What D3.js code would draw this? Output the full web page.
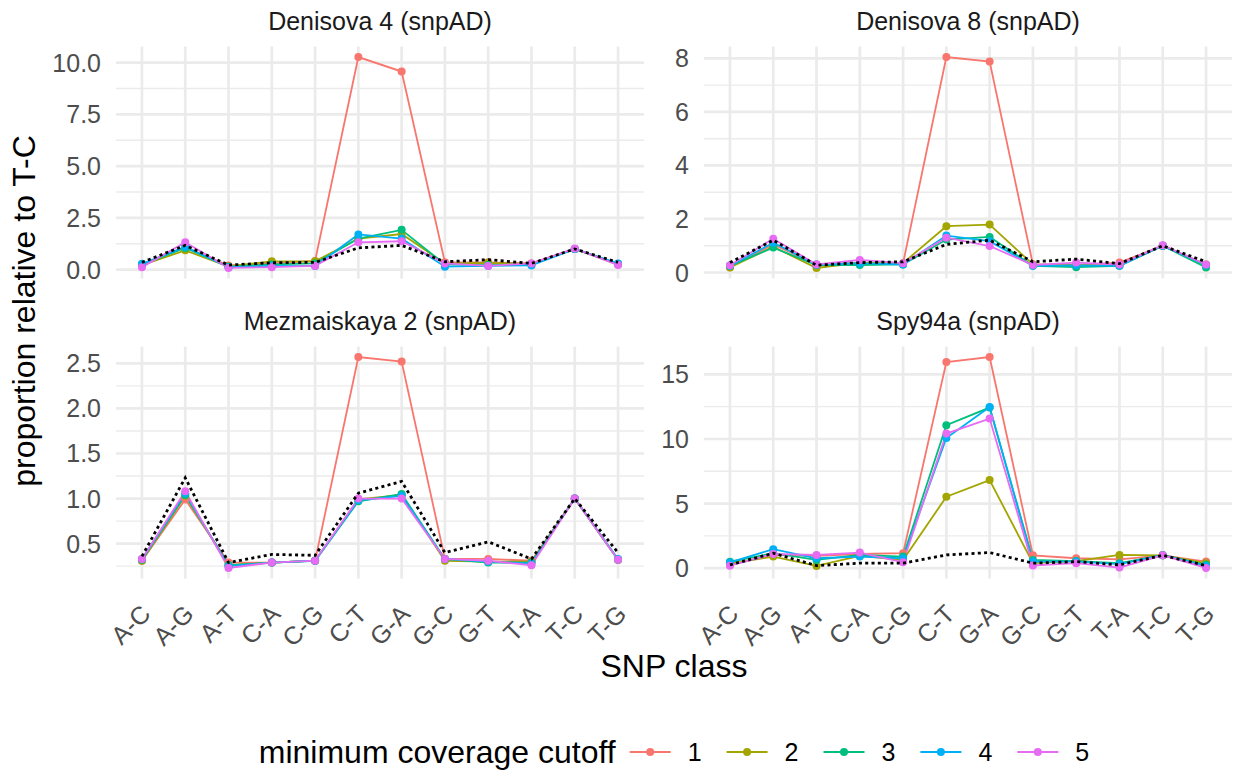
<!DOCTYPE html>
<html>
<head>
<meta charset="utf-8">
<script src="https://cdn.jsdelivr.net/npm/d3@7"></script>
<style>
  body { margin: 0; background: #fff; }
  svg { display: block; font-family: "Liberation Sans", Arial, sans-serif; }
</style>
</head>
<body>
<div id="chart"></div>
<script>
// SNP classes on the x axis
const categories = ["A-C", "A-G", "A-T", "C-A", "C-G", "C-T", "G-A", "G-C", "G-T", "T-A", "T-C", "T-G"];
const cutoffs = ["1", "2", "3", "4", "5"];
const cutoffColors = ["#F8766D", "#A3A500", "#00BF7D", "#00B0F6", "#E76BF3"];

// one row per cutoff (1..5), plus the dotted reference line
const den4Values = [
    [0.25, 1.08, 0.20, 0.30, 0.42, 10.27, 9.57, 0.35, 0.35, 0.30, 1.00, 0.28],
    [0.22, 0.93, 0.15, 0.40, 0.40, 1.50, 1.72, 0.30, 0.33, 0.28, 1.00, 0.25],
    [0.24, 1.05, 0.14, 0.25, 0.30, 1.50, 1.92, 0.25, 0.22, 0.25, 1.00, 0.27],
    [0.28, 1.10, 0.12, 0.18, 0.17, 1.70, 1.50, 0.14, 0.18, 0.20, 1.00, 0.30],
    [0.12, 1.32, 0.08, 0.12, 0.18, 1.32, 1.37, 0.30, 0.18, 0.30, 1.02, 0.22]
];
const den4Ref = [0.35, 1.17, 0.22, 0.33, 0.35, 1.05, 1.17, 0.38, 0.48, 0.30, 1.00, 0.35];
const den4Ticks = [0, 2.5, 5, 7.5, 10];

const den8Values = [
    [0.20, 1.05, 0.30, 0.37, 0.35, 8.05, 7.88, 0.30, 0.28, 0.37, 1.00, 0.27],
    [0.19, 0.96, 0.17, 0.37, 0.35, 1.73, 1.79, 0.30, 0.27, 0.27, 1.00, 0.30],
    [0.25, 0.93, 0.28, 0.28, 0.30, 1.23, 1.33, 0.25, 0.20, 0.25, 1.00, 0.19],
    [0.25, 1.11, 0.30, 0.35, 0.30, 1.38, 1.17, 0.25, 0.27, 0.25, 1.00, 0.28],
    [0.27, 1.26, 0.30, 0.47, 0.35, 1.30, 0.99, 0.28, 0.37, 0.30, 1.02, 0.30]
];
const den8Ref = [0.37, 1.21, 0.27, 0.37, 0.40, 1.05, 1.21, 0.40, 0.50, 0.33, 1.00, 0.40];
const den8Ticks = [0, 2, 4, 6, 8];

const mez2Values = [
    [0.31, 0.99, 0.29, 0.29, 0.31, 2.57, 2.52, 0.33, 0.33, 0.31, 1.00, 0.32],
    [0.31, 1.03, 0.26, 0.29, 0.31, 0.99, 1.04, 0.31, 0.30, 0.30, 1.00, 0.32],
    [0.32, 1.04, 0.26, 0.29, 0.31, 0.97, 1.05, 0.33, 0.29, 0.29, 1.00, 0.32],
    [0.33, 1.06, 0.25, 0.29, 0.31, 0.98, 1.03, 0.33, 0.30, 0.28, 1.00, 0.33],
    [0.33, 1.08, 0.23, 0.29, 0.31, 1.00, 1.00, 0.33, 0.31, 0.26, 1.00, 0.32]
];
const mez2Ref = [0.36, 1.23, 0.29, 0.38, 0.37, 1.06, 1.19, 0.40, 0.52, 0.33, 1.00, 0.40];
const mez2Ticks = [0.5, 1.0, 1.5, 2.0, 2.5];

const spyValues = [
    [0.26, 1.03, 0.95, 1.10, 1.16, 15.95, 16.34, 1.00, 0.77, 0.69, 1.00, 0.51],
    [0.35, 0.90, 0.18, 0.95, 0.64, 5.53, 6.82, 0.39, 0.55, 1.03, 1.00, 0.39],
    [0.50, 1.16, 0.64, 1.03, 0.90, 11.06, 12.43, 0.64, 0.55, 0.39, 1.00, 0.26],
    [0.45, 1.47, 0.77, 0.90, 0.77, 10.08, 12.48, 0.51, 0.51, 0.31, 1.00, 0.18],
    [0.20, 1.10, 1.03, 1.21, 0.46, 10.42, 11.58, 0.21, 0.39, 0.05, 1.00, 0.02]
];
const spyRef = [0.26, 1.16, 0.20, 0.39, 0.39, 1.03, 1.21, 0.39, 0.51, 0.26, 1.00, 0.20];
const spyTicks = [0, 5, 10, 15];

const panels = [
    { title: "Denisova 4 (snpAD)", values: den4Values, ref: den4Ref, ticks: den4Ticks, fmt: ".1f", col: 0, row: 0 },
    { title: "Denisova 8 (snpAD)", values: den8Values, ref: den8Ref, ticks: den8Ticks, fmt: "d", col: 1, row: 0 },
    { title: "Mezmaiskaya 2 (snpAD)", values: mez2Values, ref: mez2Ref, ticks: mez2Ticks, fmt: ".1f", col: 0, row: 1 },
    { title: "Spy94a (snpAD)", values: spyValues, ref: spyRef, ticks: spyTicks, fmt: "d", col: 1, row: 1 }
];

const width = 1235, height = 773;
const colX = [[116, 644], [704, 1232]];
const rowY = [[46.5, 278.5], [346.5, 578.5]];
const gridColor = "#EBEBEB";
const smallFont = 25, bigFont = 32;

const svg = d3.select("#chart").append("svg")
    .attr("width", width)
    .attr("height", height);

const color = d3.scaleOrdinal().domain(cutoffs).range(cutoffColors);

panels.forEach(p => {
    const [x0, x1] = colX[p.col];
    const [y0, y1] = rowY[p.row];

    const x = d3.scalePoint().domain(categories).range([x0, x1]).padding(0.6);

    // free y scale with 5% expansion like ggplot
    const all = p.values.flat().concat(p.ref);
    const lo = d3.min(all), hi = d3.max(all);
    const pad = (hi - lo) * 0.05;
    const y = d3.scaleLinear().domain([lo - pad, hi + pad]).range([y1, y0]);

    const g = svg.append("g");

    // minor gridlines: halfway between majors
    const step = p.ticks[1] - p.ticks[0];
    const minors = d3.range(p.ticks[0] - step / 2, p.ticks[p.ticks.length - 1] + step, step)
        .filter(v => v >= y.domain()[0] && v <= y.domain()[1]);
    g.selectAll(".minor").data(minors).join("line")
        .attr("x1", x0).attr("x2", x1)
        .attr("y1", d => y(d)).attr("y2", d => y(d))
        .attr("stroke", gridColor).attr("stroke-width", 1.4);

    g.selectAll(".major").data(p.ticks).join("line")
        .attr("x1", x0).attr("x2", x1)
        .attr("y1", d => y(d)).attr("y2", d => y(d))
        .attr("stroke", gridColor).attr("stroke-width", 2.7);

    g.selectAll(".vgrid").data(categories).join("line")
        .attr("x1", d => x(d)).attr("x2", d => x(d))
        .attr("y1", y0).attr("y2", y1)
        .attr("stroke", gridColor).attr("stroke-width", 2.7);

    // y tick labels
    const fmt = d3.format(p.fmt);
    g.selectAll(".ytick").data(p.ticks).join("text")
        .attr("x", x0 - 15)
        .attr("y", d => y(d))
        .attr("dy", "0.36em")
        .attr("text-anchor", "end")
        .attr("fill", "#4D4D4D")
        .attr("font-size", smallFont)
        .text(d => fmt(d));

    // x tick labels only on bottom row
    if (p.row === 1) {
        g.selectAll(".xtick").data(categories).join("text")
            .attr("transform", d => `translate(${x(d) + 10},${y1 + 37}) rotate(-45)`)
            .attr("text-anchor", "end")
            .attr("fill", "#4D4D4D")
            .attr("font-size", smallFont)
            .text(d => d);
    }

    // strip title
    g.append("text")
        .attr("x", (x0 + x1) / 2)
        .attr("y", y0 - 17)
        .attr("text-anchor", "middle")
        .attr("fill", "#1A1A1A")
        .attr("font-size", smallFont)
        .text(p.title);

    const line = d3.line()
        .x((d, i) => x(categories[i]))
        .y(d => y(d));

    p.values.forEach((vals, k) => {
        g.append("path")
            .datum(vals)
            .attr("fill", "none")
            .attr("stroke", color(cutoffs[k]))
            .attr("stroke-width", 1.8)
            .attr("d", line);
    });
    p.values.forEach((vals, k) => {
        g.selectAll(null).data(vals).join("circle")
            .attr("cx", (d, i) => x(categories[i]))
            .attr("cy", d => y(d))
            .attr("r", 4)
            .attr("fill", color(cutoffs[k]));
    });

    // dotted reference line on top
    g.append("path")
        .datum(p.ref)
        .attr("fill", "none")
        .attr("stroke", "#000")
        .attr("stroke-width", 2.8)
        .attr("stroke-dasharray", "3,3.3")
        .attr("d", line);
});

// axis titles
svg.append("text")
    .attr("x", 674)
    .attr("y", 677)
    .attr("text-anchor", "middle")
    .attr("font-size", bigFont)
    .attr("fill", "#000")
    .text("SNP class");

svg.append("text")
    .attr("transform", "translate(35,311) rotate(-90)")
    .attr("text-anchor", "middle")
    .attr("font-size", bigFont)
    .attr("fill", "#000")
    .text("proportion relative to T-C");

// legend at the bottom
const legend = svg.append("g");
const legendY = 752;
const title = legend.append("text")
    .attr("x", 0)
    .attr("y", legendY)
    .attr("dy", "0.35em")
    .attr("font-size", bigFont)
    .attr("fill", "#000")
    .text("minimum coverage cutoff");
let cursor = title.node().getComputedTextLength() + 14;
cutoffs.forEach(c => {
    legend.append("line")
        .attr("x1", cursor).attr("x2", cursor + 41)
        .attr("y1", legendY).attr("y2", legendY)
        .attr("stroke", color(c)).attr("stroke-width", 1.8);
    legend.append("circle")
        .attr("cx", cursor + 20.5).attr("cy", legendY).attr("r", 4)
        .attr("fill", color(c));
    const t = legend.append("text")
        .attr("x", cursor + 41 + 17)
        .attr("y", legendY)
        .attr("dy", "0.35em")
        .attr("font-size", smallFont)
        .attr("fill", "#000")
        .text(c);
    cursor += 41 + 17 + t.node().getComputedTextLength() + 25;
});
const legendWidth = cursor - 25;
legend.attr("transform", `translate(${674 - legendWidth / 2},0)`);
</script>
</body>
</html>
